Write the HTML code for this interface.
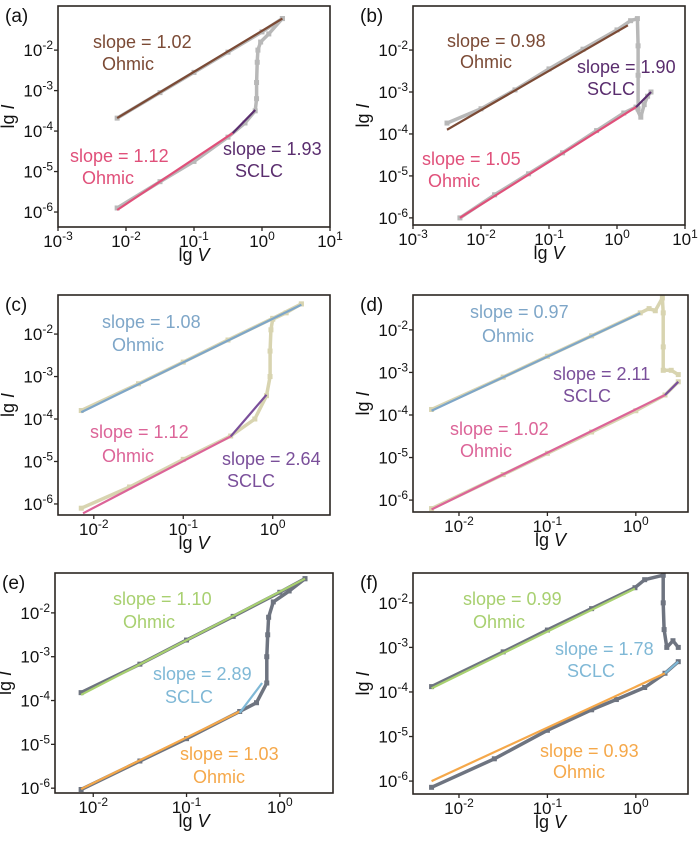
<!DOCTYPE html>
<html><head><meta charset="utf-8">
<style>
html,body{margin:0;padding:0;background:#fff;}
svg{display:block;font-family:"Liberation Sans",Arial,sans-serif;}
</style></head>
<body>
<svg id="fig" width="700" height="842" viewBox="0 0 700 842"></svg>
<script>
// ---- data (log10 V, log10 I) ----
const aMeasUp=[[-2.13,-3.68],[-1.5,-3.05],[-1,-2.55],[-0.5,-2.05],[0,-1.55],[0.3,-1.22]];
const aMeasLow=[[-2.13,-5.9],[-1.5,-5.25],[-1,-4.75],[-0.5,-4.15],[-0.25,-3.8],[-0.1,-3.5],[-0.08,-3.2],[-0.08,-2.8],[-0.07,-2.3],[-0.06,-2.0],[-0.02,-1.8],[0.1,-1.6],[0.3,-1.22]];
const aFits=[[-2.13,-3.68,0.3,-1.22],[-2.13,-5.95,-0.43,-4.05],[-0.43,-4.05,-0.1,-3.48]];
const bMeasUp=[[-2.5,-3.74],[-2,-3.4],[-1.5,-2.95],[-1,-2.45],[-0.5,-1.98],[0,-1.52],[0.2,-1.3],[0.3,-1.25],[0.31,-1.9],[0.31,-2.6],[0.31,-3.4]];
const bMeasLow=[[-2.31,-6.0],[-1.8,-5.45],[-1.3,-4.95],[-0.8,-4.45],[-0.3,-3.92],[0.1,-3.5],[0.28,-3.36],[0.35,-3.6],[0.4,-3.3],[0.45,-3.1],[0.5,-3.0]];
const bFits=[[-2.5,-3.9,0.16,-1.41],[-2.31,-6.0,0.28,-3.36],[0.28,-3.36,0.5,-3.0]];
const cMeasUp=[[-2.14,-3.8],[-1.5,-3.17],[-1,-2.66],[-0.5,-2.14],[0,-1.63],[0.32,-1.29]];
const cMeasLow=[[-2.14,-6.1],[-1.6,-5.6],[-1,-4.95],[-0.47,-4.4],[-0.2,-4.0],[-0.07,-3.45],[-0.03,-3.0],[-0.03,-2.4],[-0.02,-1.9],[0.0,-1.65],[0.15,-1.5],[0.32,-1.29]];
const cFits=[[-2.14,-3.84,0.32,-1.31],[-2.12,-6.22,-0.47,-4.41],[-0.47,-4.41,-0.07,-3.43]];
const dMeasUp=[[-2.31,-3.87],[-1.5,-3.11],[-1,-2.62],[-0.5,-2.14],[0.05,-1.6],[0.15,-1.5],[0.22,-1.55],[0.3,-1.25],[0.31,-1.6],[0.31,-2.4],[0.31,-2.95],[0.4,-2.95],[0.48,-3.05]];
const dMeasLow=[[-2.31,-6.2],[-1.5,-5.4],[-1,-4.9],[-0.5,-4.4],[0,-3.9],[0.33,-3.53],[0.48,-3.22]];
const dFits=[[-2.31,-3.9,0.05,-1.61],[-2.31,-6.22,0.33,-3.53],[0.33,-3.53,0.48,-3.22]];
const eMeasUp=[[-2.13,-3.82],[-1.5,-3.17],[-1,-2.62],[-0.5,-2.08],[0,-1.53],[0.27,-1.22]];
const eMeasLow=[[-2.13,-6.03],[-1.5,-5.38],[-1,-4.87],[-0.43,-4.25],[-0.25,-4.05],[-0.14,-3.6],[-0.14,-3.0],[-0.13,-2.5],[-0.12,-2.1],[-0.07,-1.75],[0.1,-1.5],[0.27,-1.22]];
const eFits=[[-2.13,-3.87,0.27,-1.22],[-2.13,-6.02,-0.43,-4.25],[-0.43,-4.28,-0.19,-3.6]];
const fMeasUp=[[-2.31,-3.88],[-1.5,-3.1],[-1,-2.61],[-0.5,-2.13],[-0.01,-1.66],[0.1,-1.48],[0.31,-1.38],[0.31,-2.0],[0.32,-2.6],[0.35,-3.0],[0.42,-2.85],[0.48,-3.0]];
const fMeasLow=[[-2.31,-6.14],[-1.6,-5.5],[-1,-4.86],[-0.5,-4.4],[-0.22,-4.17],[0.1,-3.9],[0.33,-3.58],[0.48,-3.32]];
const fFits=[[-2.31,-3.92,-0.01,-1.68],[-2.31,-6.0,0.33,-3.58],[0.33,-3.58,0.48,-3.32]];
const xTicksWide=[-3,-2,-1,0,1];
const xTicksNarrow=[-2,-1,0];
const yTicks=[-2,-3,-4,-5,-6];

const panels=[
 {id:'a',box:[58,6,330,227],xr:[-3,1],yr:[-6.37,-0.91],xt:xTicksWide,up:aMeasUp,low:aMeasLow,fits:aFits,mc:'#b8b8b8',fc:['#7b4a35','#e0507a','#5a2d6e'],
  labels:[['slope = 1.02',93,48,0],['Ohmic',102,70,0],['slope = 1.12',70,162,1],['Ohmic',82,184,1],['slope = 1.93',223,155,2],['SCLC',235,177,2]]},
 {id:'b',box:[413,6,685,225],xr:[-3,1],yr:[-6.17,-0.95],xt:xTicksWide,up:bMeasUp,low:bMeasLow,fits:bFits,mc:'#b8b8b8',fc:['#7b4a35','#e0507a','#5a2d6e'],
  labels:[['slope = 0.98',447,47,0],['Ohmic',460,68,0],['slope = 1.90',577,73,2],['SCLC',587,95,2],['slope = 1.05',422,165,1],['Ohmic',428,187,1]]},
 {id:'c',box:[58,295,330,515],xr:[-2.40,0.64],yr:[-6.26,-1.08],xt:xTicksNarrow,up:cMeasUp,low:cMeasLow,fits:cFits,mc:'#d8d4b0',fc:['#7ea6c8','#dc6498','#7a4f9a'],
  labels:[['slope = 1.08',102,328,0],['Ohmic',112,351,0],['slope = 1.12',90,438,1],['Ohmic',102,462,1],['slope = 2.64',222,465,2],['SCLC',227,487,2]]},
 {id:'d',box:[413,295,688,512],xr:[-2.52,0.59],yr:[-6.28,-1.18],xt:xTicksNarrow,up:dMeasUp,low:dMeasLow,fits:dFits,mc:'#d8d4b0',fc:['#7ea6c8','#dc6498','#7a4f9a'],
  labels:[['slope = 0.97',470,318,0],['Ohmic',482,342,0],['slope = 2.11',553,380,2],['SCLC',563,402,2],['slope = 1.02',450,435,1],['Ohmic',460,457,1]]},
 {id:'e',box:[55,573,333,793],xr:[-2.41,0.57],yr:[-6.11,-1.09],xt:xTicksNarrow,up:eMeasUp,low:eMeasLow,fits:eFits,mc:'#6e7480',fc:['#a8d070','#f5a84a','#7fb8d6'],
  labels:[['slope = 1.10',113,605,0],['Ohmic',123,628,0],['slope = 2.89',153,680,2],['SCLC',165,703,2],['slope = 1.03',180,760,1],['Ohmic',193,783,1]]},
 {id:'f',box:[413,573,688,794],xr:[-2.52,0.59],yr:[-6.29,-1.33],xt:xTicksNarrow,up:fMeasUp,low:fMeasLow,fits:fFits,mc:'#6e7480',fc:['#a8d070','#f5a84a','#7fb8d6'],
  labels:[['slope = 0.99',463,605,0],['Ohmic',473,628,0],['slope = 1.78',555,655,2],['SCLC',567,677,2],['slope = 0.93',540,757,1],['Ohmic',553,778,1]]}
];
const NS='http://www.w3.org/2000/svg';
const svg=document.getElementById('fig');
function mk(tag,attrs,parent){const e=document.createElementNS(NS,tag);for(const k in attrs)e.setAttribute(k,attrs[k]);(parent||svg).appendChild(e);return e;}
const defs=mk('defs',{});
panels.forEach(p=>{
 const [x0,y0,x1,y1]=p.box;
 const cp=mk('clipPath',{id:'clip-'+p.id},defs);
 mk('rect',{x:x0,y:y0,width:x1-x0,height:y1-y0},cp);
 const g=mk('g',{});
 
 
 const pg=mk('g',{'clip-path':'url(#clip-'+p.id+')'},g);
 const sx=v=>x0+(v-p.xr[0])/(p.xr[1]-p.xr[0])*(x1-x0);
 const sy=v=>y1-(v-p.yr[0])/(p.yr[1]-p.yr[0])*(y1-y0);
 const pl=(arr)=>arr.map(d=>sx(d[0]).toFixed(1)+','+sy(d[1]).toFixed(1)).join(' ');
 [['up',p.up],['low',p.low]].forEach(([n,arr])=>{
  const l=mk('polyline',{points:pl(arr),fill:'none',stroke:p.mc,'stroke-width':3.5,'stroke-linejoin':'round'},pg);
  
  
  arr.forEach(d=>{
   const r=mk('rect',{x:sx(d[0])-2.5,y:sy(d[1])-2.5,width:5,height:5,fill:p.mc},pg);
   
   
  });
 });
 p.fits.forEach((f,i)=>{
  const l=mk('line',{x1:sx(f[0]),y1:sy(f[1]),x2:sx(f[2]),y2:sy(f[3]),stroke:p.fc[i],'stroke-width':2.2},pg);
  
  
 });
 const b=mk('rect',{x:x0,y:y0,width:x1-x0,height:y1-y0,fill:'none',stroke:'#2b2622','stroke-width':1.6},g);
 
 
 p.xt.forEach(t=>{
  const X=sx(t);
  mk('line',{x1:X,y1:y1,x2:X,y2:y1+4,stroke:'#2b2622','stroke-width':1.3},g);
  const tx=mk('text',{x:X,y:y1+20,'text-anchor':'middle','font-size':17,fill:'#111'},g);
  
  
  tx.innerHTML='10<tspan dy="-7" font-size="12">'+t+'</tspan>';
 });
 yTicks.forEach(t=>{
  const Y=sy(t);
  mk('line',{x1:x0-4,y1:Y,x2:x0,y2:Y,stroke:'#2b2622','stroke-width':1.3},g);
  const tx=mk('text',{x:x0-5,y:Y+6,'text-anchor':'end','font-size':17,fill:'#111'},g);
  
  
  tx.innerHTML='10<tspan dy="-7" font-size="12">'+t+'</tspan>';
 });
 const xl=mk('text',{x:(x0+x1)/2,y:y1+34,'text-anchor':'middle','font-size':18,fill:'#111'},g);
 
 
 xl.innerHTML='lg <tspan font-style="italic">V</tspan>';
 const yx=x0-44,yy=(y0+y1)/2;
 const yl=mk('text',{x:yx,y:yy,'text-anchor':'middle','font-size':18,fill:'#111',transform:'rotate(-90 '+yx+' '+yy+')'},g);
 
 
 yl.innerHTML='lg <tspan font-style="italic">I</tspan>';
 const pt=mk('text',{x:x0-53,y:y0+16,'font-size':19,fill:'#111'},g);
 
 
 pt.textContent='('+p.id+')';
 p.labels.forEach(L=>{
  const t=mk('text',{x:L[1],y:L[2],'font-size':18,fill:p.fc[L[3]]},g);
  
  
  t.textContent=L[0];
 });
});
</script>
</body></html>
